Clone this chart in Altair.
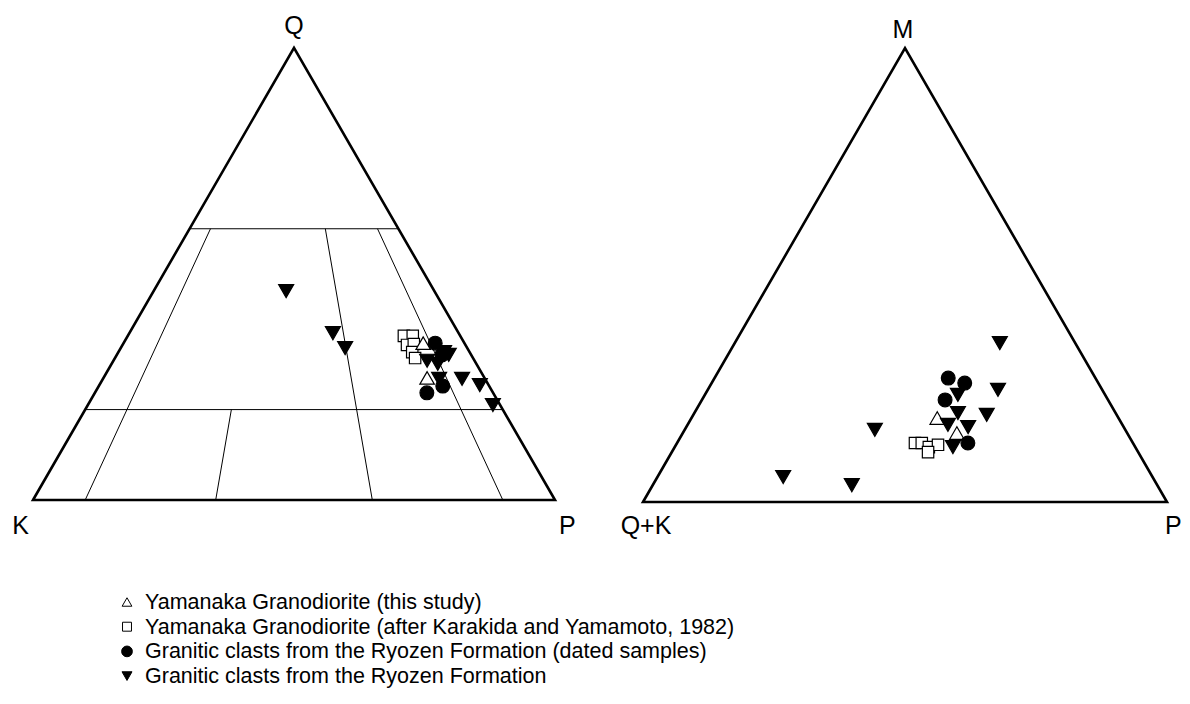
import math
import altair as alt
import pandas as pd

# ---------------- data ----------------
groups = [
    "Yamanaka Granodiorite (this study)",
    "Yamanaka Granodiorite (after Karakida and Yamamoto, 1982)",
    "Granitic clasts from the Ryozen Formation (dated samples)",
    "Granitic clasts from the Ryozen Formation",
]

# Left diagram Q-K-P : Q %, P %  (K = 100 - Q - P)
qap_open_tri_Q = [34.7, 27.0]
qap_open_tri_P = [57.4, 62.0]
qap_square_Q = [36.3, 36.3, 34.3, 34.5, 32.7, 31.4]
qap_square_P = [52.9, 54.6, 54.5, 55.7, 56.3, 57.5]
qap_circle_Q = [34.7, 32.1, 25.2, 23.7]
qap_circle_P = [59.7, 62.3, 65.9, 63.6]
qap_down_Q = [46.2, 36.9, 33.6, 30.8, 30.1, 32.1, 32.7, 26.8, 26.8, 25.4, 21.0]
qap_down_P = [25.4, 39.0, 43.0, 60.1, 62.5, 63.6, 62.4, 64.4, 68.8, 72.9, 77.6]

# Right diagram M-(Q+K)-P : M %, P %  (Q+K = 100 - M - P)
mp_open_tri_M = [18.5, 15.2]
mp_open_tri_P = [46.9, 52.3]
mp_square_M = [13.0, 13.0, 12.1, 12.6, 11.0]
mp_square_P = [45.4, 46.7, 48.5, 50.0, 48.9]
mp_circle_M = [27.3, 26.2, 22.5, 13.0]
mp_circle_P = [44.6, 48.3, 46.4, 55.5]
mp_down_M = [35.0, 24.7, 19.2, 23.6, 19.6, 17.0, 16.5, 12.1, 15.9, 5.5, 3.7]
mp_down_P = [50.6, 55.4, 56.0, 48.3, 50.3, 49.7, 53.8, 53.1, 36.3, 24.0, 38.0]

# Field boundaries of the QAP diagram
q_levels = [60, 20]                 # horizontal Q lines
ratio_lines = [10, 35, 65, 90]      # 100*P/(K+P)
ratio_top_Q = [60, 20, 60, 60]      # Q level where each ratio line starts

# vertex labels (top, left, right)
left_vertices = ["Q", "K", "P"]
right_vertices = ["M", "Q+K", "P"]

# ---------------- layout / style ----------------
W, H = 1174, 688
GEO = {"QAP": dict(x0=33, y0=500, side=522), "MPQK": dict(x0=643, y0=502, side=524)}
FONT = "Liberation Sans"
SHAPES = ["triangle-up", "square", "circle", "triangle-down"]
FILLED = [False, False, True, True]
PLOT_SIZE = [210, 130, 190, 225]
LEG_SIZE = [95, 80, 115, 100]
LEG_X, LEG_Y0, LEG_DY, LEG_TX = 127, 602, 24.7, 145


def xexpr(a, b):
    L, R = GEO["QAP"], GEO["MPQK"]
    return (f"datum.panel == 'QAP' ? {L['x0']} + {L['side']}*(datum.{b} + datum.{a}/2)/100"
            f" : {R['x0']} + {R['side']}*(datum.{b} + datum.{a}/2)/100")


def yexpr(a):
    L, R = GEO["QAP"], GEO["MPQK"]
    hL = L["side"] * math.sqrt(3) / 2
    hR = R["side"] * math.sqrt(3) / 2
    return (f"datum.panel == 'QAP' ? {L['y0']} - {hL}*datum.{a}/100"
            f" : {R['y0']} - {hR}*datum.{a}/100")


xs = alt.Scale(domain=[8, 8 + W], nice=False, zero=False)
ys = alt.Scale(domain=[8, 8 + H], nice=False, zero=False, reverse=True)
X = alt.X("x:Q", scale=xs, axis=None)
Y = alt.Y("y:Q", scale=ys, axis=None)

# points table
rows = []
for panel, sets in [
    ("QAP", [(qap_open_tri_Q, qap_open_tri_P), (qap_square_Q, qap_square_P),
             (qap_circle_Q, qap_circle_P), (qap_down_Q, qap_down_P)]),
    ("MPQK", [(mp_open_tri_M, mp_open_tri_P), (mp_square_M, mp_square_P),
              (mp_circle_M, mp_circle_P), (mp_down_M, mp_down_P)]),
]:
    for gi, (aa, bb) in enumerate(sets):
        for a, b in zip(aa, bb):
            rows.append(dict(panel=panel, g=gi, group=groups[gi], a=a, b=b))
pts = pd.DataFrame(rows)

# triangle outlines (path top-left-right-top-left so all corners are joined)
outline = pd.DataFrame([
    dict(panel=p, o=i, a=a, b=b)
    for p in ["QAP", "MPQK"]
    for i, (a, b) in enumerate([(100, 0), (0, 0), (0, 100), (100, 0), (0, 0)])
])

# field boundary segments
segs = []
for q in q_levels:
    segs.append(dict(panel="QAP", a1=q, b1=0, a2=q, b2=100 - q))
for r, t in zip(ratio_lines, ratio_top_Q):
    segs.append(dict(panel="QAP", a1=t, b1=r * (100 - t) / 100, a2=0, b2=r))
segs = pd.DataFrame(segs)

outline_layer = alt.Chart(outline).transform_calculate(
    x=xexpr("a", "b"), y=yexpr("a")
).mark_line(color="black", strokeWidth=2.6, strokeJoin="miter").encode(
    x=X, y=Y, detail="panel:N", order="o:Q",
)

field_layer = alt.Chart(segs).transform_calculate(
    x=xexpr("a1", "b1"), y=yexpr("a1"), x2=xexpr("a2", "b2"), y2=yexpr("a2")
).mark_rule(color="black", strokeWidth=1).encode(
    x=X, y=Y, x2="x2:Q", y2="y2:Q",
)

point_layers = []
for gi in [1, 0, 3, 2]:
    point_layers.append(
        alt.Chart(pts).transform_filter(f"datum.g == {gi}").transform_calculate(
            x=xexpr("a", "b"), y=yexpr("a")
        ).mark_point(
            shape=SHAPES[gi], size=PLOT_SIZE[gi], filled=True,
            fill="black" if FILLED[gi] else "white",
            stroke="black", strokeWidth=1.2, opacity=1,
        ).encode(x=X, y=Y, tooltip=["group:N"])
    )

# legend (drawn as marks)
leg = pd.DataFrame(dict(row=list(range(4)), label=groups))
legend_layers = []
for gi in range(4):
    legend_layers.append(
        alt.Chart(leg).transform_filter(f"datum.row == {gi}").transform_calculate(
            x=f"{LEG_X}", y=f"{LEG_Y0} + {LEG_DY}*datum.row"
        ).mark_point(
            shape=SHAPES[gi], size=LEG_SIZE[gi], filled=True,
            fill="black" if FILLED[gi] else "white",
            stroke="black", strokeWidth=1, opacity=1,
        ).encode(x=X, y=Y)
    )
legend_text = alt.Chart(leg).transform_calculate(
    x=f"{LEG_TX}", y=f"{LEG_Y0} + {LEG_DY}*datum.row"
).mark_text(font=FONT, fontSize=21.5, color="black", align="left", baseline="middle", dy=1).encode(
    x=X, y=Y, text="label:N"
)

# vertex labels
lab_rows = []
for panel, names in [("QAP", left_vertices), ("MPQK", right_vertices)]:
    for name, (a, b), pos in zip(names, [(100, 0), (0, 0), (0, 100)], ["top", "left", "right"]):
        lab_rows.append(dict(panel=panel, text=name, a=a, b=b, pos=pos))
labels = pd.DataFrame(lab_rows)

label_styles = [
    ("QAP", "top", dict(align="center", dx=0, dy=-14)),
    ("QAP", "left", dict(align="right", dx=-4, dy=34)),
    ("QAP", "right", dict(align="left", dx=4, dy=34)),
    ("MPQK", "top", dict(align="center", dx=-2, dy=-10)),
    ("MPQK", "left", dict(align="center", dx=3, dy=32)),
    ("MPQK", "right", dict(align="left", dx=-2, dy=32)),
]
label_layers = []
for panel, pos, st in label_styles:
    label_layers.append(
        alt.Chart(labels).transform_filter(
            f"datum.panel == '{panel}' && datum.pos == '{pos}'"
        ).transform_calculate(x=xexpr("a", "b"), y=yexpr("a")).mark_text(
            font=FONT, fontSize=25, color="black", baseline="alphabetic", **st
        ).encode(x=X, y=Y, text="text:N")
    )

chart = alt.layer(
    field_layer, outline_layer, *point_layers, *legend_layers, legend_text, *label_layers
).properties(
    width=W, height=H, padding=0, autosize=alt.AutoSizeParams(type="none"),
    background="white",
).configure_view(stroke=None)

chart.save("out.html", embed_options={"renderer": "svg", "actions": False})
